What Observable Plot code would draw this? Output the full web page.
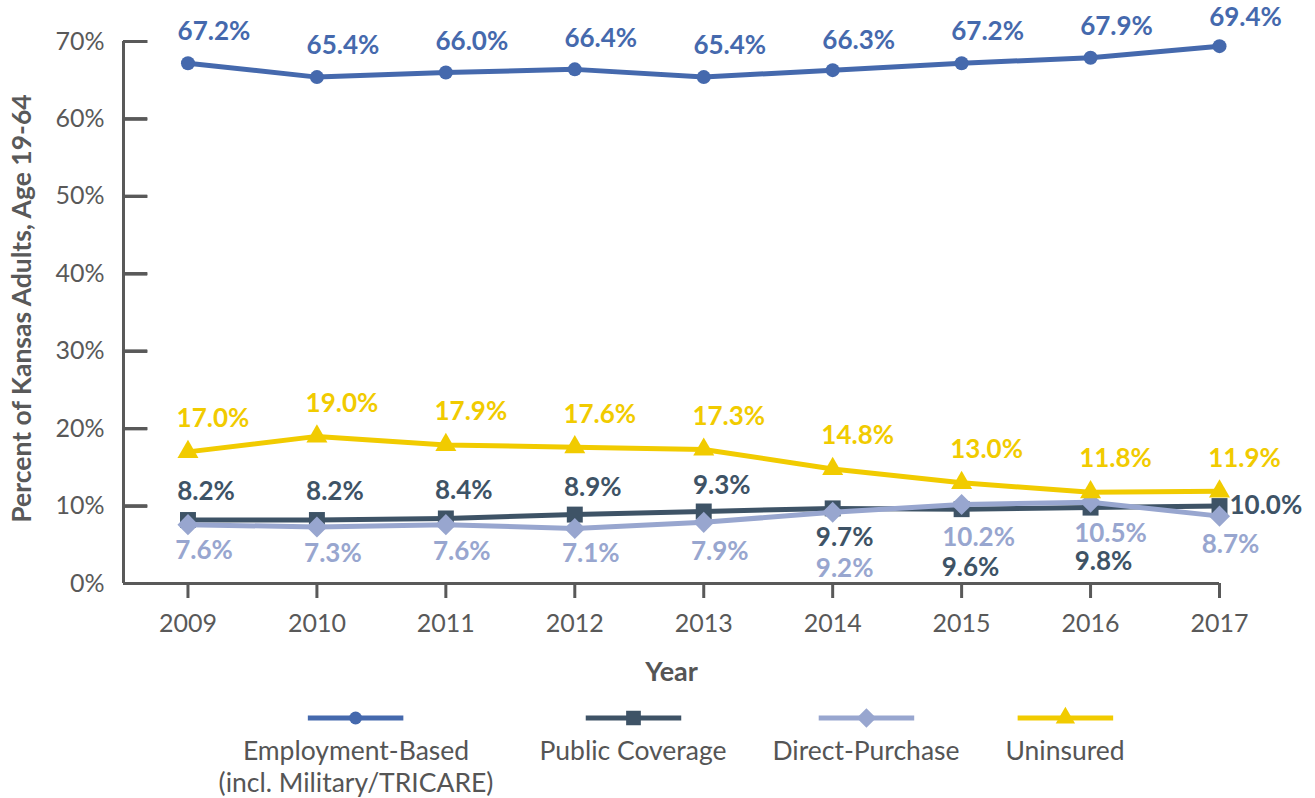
<!DOCTYPE html>
<html>
<head>
<meta charset="utf-8">
<script src="https://cdn.jsdelivr.net/npm/d3@7"></script>
<script src="https://cdn.jsdelivr.net/npm/@observablehq/plot@0.6"></script>
<style>
  body { margin: 0; background: #fff; font-family: Lato, "Open Sans", sans-serif; }
  #wrap { position: relative; width: 1315px; height: 798px; }
  .leg { position: absolute; top: 706px; transform: translateX(-50%); text-align: center; color: #555; font-size: 26.5px; line-height: 32px; white-space: nowrap; }
  .leg svg { display: block; margin: 0 auto 4px auto; }
</style>
</head>
<body>
<div id="wrap"></div>
<script>
const years = [2009, 2010, 2011, 2012, 2013, 2014, 2015, 2016, 2017];
const employment = [67.2, 65.4, 66.0, 66.4, 65.4, 66.3, 67.2, 67.9, 69.4];
const publicCov = [8.2, 8.2, 8.4, 8.9, 9.3, 9.7, 9.6, 9.8, 10.0];
const directPurchase = [7.6, 7.3, 7.6, 7.1, 7.9, 9.2, 10.2, 10.5, 8.7];
const uninsured = [17.0, 19.0, 17.9, 17.6, 17.3, 14.8, 13.0, 11.8, 11.9];
const seriesNames = ["Employment-Based\n(incl. Military/TRICARE)", "Public Coverage", "Direct-Purchase", "Uninsured"];
const yTicks = [0, 10, 20, 30, 40, 50, 60, 70];

// layout/style config (not data)
const W = 1315, H = 690, mL = 123, mR = 96, mT = 41, mB = 107;
const xDomain = [2008.5, 2017];
const colors = ["#4569ad", "#3e5366", "#98a6cf", "#f1cb00"];
const symbols = ["circle", "square", "diamond2", "triangle"];
const symbolR = [7, 9, 9.5, 7.8];
const labelDy = [
  [-32, -31, -31, -31, -31, -29, -32, -31, -28],
  [-28, -28, -28, -27, -26, 29, 59, 54, 0],
  [26, 27, 27, 25, 29, 56, 33, 31, 29],
  years.map(() => -33)
];
const labelDx = [
  years.map(() => 26),
  [18, 18, 18, 18, 18, 12, 9, 13, 10],
  [16, 16, 16, 16, 16, 12, 17, 20, 11],
  years.map(() => 25)
];

const allValues = [employment, publicCov, directPurchase, uninsured];
const series = allValues.map((vals, s) => years.map((year, i) => ({year, value: vals[i], s, i})));
const gray = "#595959";
// inward y-tick length of 24px, expressed in x units
const tickLen = 24 * (xDomain[1] - xDomain[0]) / (W - mL - mR);
const tickRows = yTicks.map(v => ({v, a: xDomain[0], b: xDomain[0] + tickLen}));

const marks = [
  Plot.ruleX([xDomain[0]], {stroke: gray, strokeWidth: 3}),
  Plot.ruleY([0], {stroke: gray, strokeWidth: 3}),
  Plot.axisY(yTicks, {tickSize: 0, tickPadding: 19, tickFormat: d => d + "%", fill: gray, fontSize: 25, label: null}),
  Plot.axisX(years, {tickSize: 15, stroke: gray, strokeWidth: 3, tickPadding: 16, tickFormat: d => String(d), fill: gray, fontSize: 25, label: null}),
  Plot.text(["Percent of Kansas Adults, Age 19-64"], {frameAnchor: "left", textAnchor: "middle", dx: -101, dy: -4, rotate: -90, fontSize: 26.5, fontWeight: "bold", fill: gray}),
  Plot.text(["Year"], {frameAnchor: "bottom", textAnchor: "middle", dy: 97, fontSize: 27, fontWeight: "bold", fill: "#555"})
];
series.forEach((data, s) => {
  marks.push(Plot.line(data, {x: "year", y: "value", stroke: colors[s], strokeWidth: 5}));
  marks.push(Plot.dot(data, {x: "year", y: "value", fill: colors[s], symbol: symbols[s], r: symbolR[s]}));
});
series.forEach((data, s) => {
  data.forEach((d, i) => {
    const isRight = s === 1 && i === data.length - 1;
    marks.push(Plot.text([d], {
      x: "year", y: "value",
      text: d => d.value.toFixed(1) + "%",
      fill: colors[s], fontSize: 26, fontWeight: "bold",
      dx: labelDx[s][i], dy: labelDy[s][i],
      textAnchor: isRight ? "start" : "middle"
    }));
  });
});
// inward y ticks, drawn last
marks.push(Plot.link(tickRows, {x1: "a", x2: "b", y1: "v", y2: "v", stroke: gray, strokeWidth: 3}));
marks.push(Plot.ruleY(tickRows, {y: "v", x1: "a", x2: "b", stroke: gray, strokeWidth: 3}));
marks.push(Plot.axisY(yTicks, {tickSize: 24, dx: 24, stroke: gray, strokeWidth: 3, fill: "none", label: null}));

const chart = Plot.plot({
  width: W,
  height: H,
  marginLeft: mL,
  marginRight: mR,
  marginTop: mT,
  marginBottom: mB,
  style: {fontFamily: "Lato", background: "#fff"},
  x: {domain: xDomain, axis: null},
  y: {domain: [0, 70], axis: null},
  marks
});
chart.style.position = "absolute";
chart.style.left = "0px";
chart.style.top = "0px";
const wrap = document.getElementById("wrap");
wrap.appendChild(chart);

const legendCenters = [356, 633, 866, 1065];
const legendSymbols = [d3.symbolCircle, d3.symbolSquare, d3.symbolDiamond2, d3.symbolTriangle];
seriesNames.forEach((name, s) => {
  const div = document.createElement("div");
  div.className = "leg";
  div.style.left = legendCenters[s] + "px";
  const sym = d3.symbol(legendSymbols[s], Math.PI * symbolR[s] * symbolR[s] * 0.85)();
  div.innerHTML = `<svg width="96" height="24"><line x1="0" x2="96" y1="12" y2="12" stroke="${colors[s]}" stroke-width="5"/><path transform="translate(48,12)" d="${sym}" fill="${colors[s]}"/></svg>` +
    name.split("\n").map(t => `<div>${t}</div>`).join("");
  wrap.appendChild(div);
});
</script>
</body>
</html>
